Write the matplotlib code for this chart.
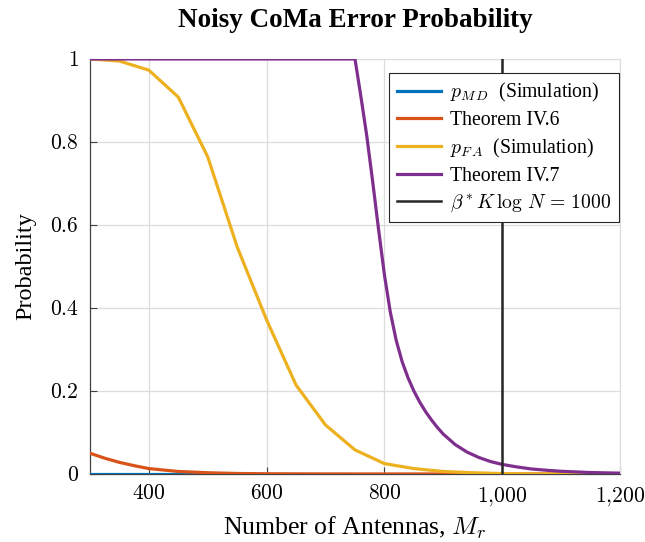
import matplotlib
matplotlib.use('Agg')
import matplotlib.pyplot as plt
import numpy as np

plt.rcParams['font.family'] = 'serif'
plt.rcParams['font.serif'] = ['Liberation Serif', 'DejaVu Serif']
plt.rcParams['mathtext.fontset'] = 'cm'

# data
m_sim = [300, 350, 400, 450, 500, 550, 600, 650, 700, 750, 800, 850, 900, 950, 1000,
         1050, 1100, 1150, 1200]
p_md = [0, 0, 0, 0, 0, 0, 0, 0, 0, 0, 0, 0, 0, 0, 0, 0, 0, 0, 0]
p_fa = [1.0, 0.995, 0.973, 0.908, 0.764, 0.547, 0.371, 0.214, 0.118, 0.058, 0.025,
        0.013, 0.006, 0.003, 0.001, 0, 0, 0, 0]

m_th6 = [300, 325, 350, 375, 400, 450, 500, 550, 600, 700, 800, 1000, 1200]
th6 = [0.05, 0.038, 0.028, 0.02, 0.013, 0.006, 0.003, 0.0012, 0.0005, 0.0001, 0, 0, 0]

m_th7 = [300, 750, 755, 760, 770, 780, 790, 800, 810, 820, 830, 840, 850, 860, 870,
         880, 890, 900, 920, 940, 960, 980, 1000, 1025, 1050, 1075, 1100, 1150, 1200]
th7 = [1.0, 1.0, 0.955, 0.91, 0.815, 0.705, 0.59, 0.48, 0.39, 0.322, 0.271, 0.232,
       0.2, 0.173, 0.15, 0.13, 0.112, 0.096, 0.071, 0.053, 0.04, 0.03, 0.023, 0.017,
       0.012, 0.009, 0.0065, 0.0035, 0.002]

threshold = 1000

xticks = [400, 600, 800, 1000, 1200]
xticklabels = ['$400$', '$600$', '$800$', '$1{,}000$', '$1{,}200$']
yticks = [0, 0.2, 0.4, 0.6, 0.8, 1]
yticklabels = ['$0$', '$0.2$', '$0.4$', '$0.6$', '$0.8$', '$1$']

cores = ['#0072BD', '#D95319', '#EDB120', '#7E2F8E']

fig = plt.figure(figsize=(6.45, 5.42), dpi=100)
ax = fig.add_axes([0.1395, 0.1255, 0.8217, 0.7657])

lw = 2.3
ax.plot(m_sim, p_md, color=cores[0], lw=lw, label=r'$p_{M\,D}$  (Simulation)', zorder=3)
ax.plot(m_th6, th6, color=cores[1], lw=lw, label='Theorem IV.6', zorder=4)
ax.plot(m_sim, p_fa, color=cores[2], lw=lw, label=r'$p_{F\,A}$  (Simulation)', zorder=5)
ax.plot(m_th7, th7, color=cores[3], lw=lw, label='Theorem IV.7', zorder=6)
ax.axvline(threshold, color='#262626', lw=1.8, label=r'$\beta^* K\,\log\,N\,=\,1000$', zorder=7)

ax.set_xlim(300, 1200)
ax.set_ylim(0, 1)
ax.set_xticks(xticks)
ax.set_xticklabels(xticklabels, fontsize=15.5)
ax.set_yticks(yticks)
ax.set_yticklabels(yticklabels, fontsize=15.5)
ax.tick_params(direction='in', length=5, width=0.8, color='#404040', pad=8)
ax.grid(True, color='#dcdcdc', lw=0.9)
ax.set_axisbelow(True)

for s in ['top', 'right']:
    ax.spines[s].set_color('#dcdcdc')
for s in ['left', 'bottom']:
    ax.spines[s].set_color('#404040')
    ax.spines[s].set_linewidth(0.9)

ax.set_xlabel(r'Number of Antennas, $M_r$', fontsize=18.5, labelpad=5)
ax.set_ylabel('Probability', fontsize=17.5, labelpad=10)
ax.set_title('Noisy CoMa Error Probability', fontsize=19.5, fontweight='bold', pad=23)

leg = ax.legend(loc='upper right', bbox_to_anchor=(0.998, 0.966), fontsize=14.2,
                frameon=True, fancybox=False, framealpha=1, edgecolor='#262626',
                handlelength=2.2, borderpad=0.4, labelspacing=0.35, handletextpad=0.45,
                borderaxespad=0)
leg.get_frame().set_linewidth(0.8)
leg.set_zorder(20)

plt.savefig('out.png', dpi=100)
